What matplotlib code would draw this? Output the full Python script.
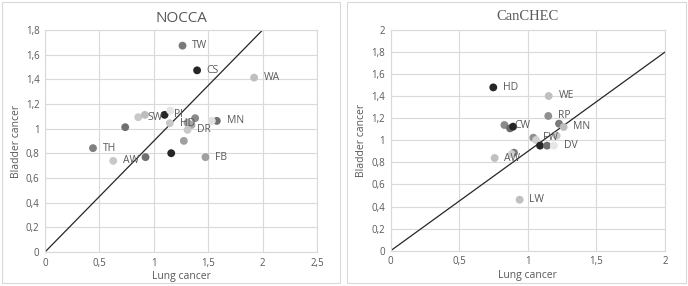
import matplotlib
matplotlib.use("Agg")
import matplotlib.pyplot as plt
from matplotlib.patches import Rectangle

plt.rcParams['font.family'] = ['Open Sans', 'DejaVu Sans']

# NOCCA panel
nocca_x = [1.264, 1.398, 1.922, 1.579, 1.533, 1.380, 1.099, 1.150, 1.147, 0.857, 0.918,
           0.737, 1.310, 1.320, 1.346, 1.310, 1.276, 1.160, 1.475, 0.924, 0.627, 0.441]
nocca_y = [1.673, 1.473, 1.414, 1.063, 1.063, 1.085, 1.112, 1.147, 1.044, 1.093, 1.112,
           1.012, 1.047, 1.040, 1.030, 0.990, 0.901, 0.801, 0.769, 0.769, 0.739, 0.842]
nocca_c = ['#7a7a7a', '#262626', '#bfbfbf', '#707070', '#e0e0e0', '#8a8a8a', '#262626', '#e6e6e6',
           '#c8c8c8', '#c8c8c8', '#bdbdbd', '#707070', '#9a9a9a', '#b0b0b0', '#a6a6a6', '#c8c8c8',
           '#a0a0a0', '#262626', '#a0a0a0', '#707070', '#c8c8c8', '#808080']
nocca_lab = ['TW', 'CS', 'WA', 'MN', '', '', 'PI', '', 'HD', 'SW', '',
             '', '', '', '', 'DR', '', '', 'FB', '', 'AW', 'TH']

# CanCHEC panel
can_x = [0.748, 1.152, 1.149, 1.227, 1.261, 0.829, 0.870, 0.892, 1.040, 1.060, 1.210,
         1.089, 1.140, 1.190, 0.758, 0.899, 0.882, 0.940]
can_y = [1.480, 1.402, 1.221, 1.151, 1.121, 1.139, 1.109, 1.124, 1.024, 1.003, 1.042,
         0.952, 0.952, 0.952, 0.840, 0.888, 0.876, 0.462]
can_c = ['#262626', '#c0c0c0', '#909090', '#7a7a7a', '#bdbdbd', '#8a8a8a', '#6a6a6a', '#262626',
         '#909090', '#d0d0d0', '#c8c8c8', '#262626', '#707070', '#e6e6e6', '#c0c0c0', '#7a7a7a',
         '#d0d0d0', '#c0c0c0']
can_lab = ['HD', 'WE', 'RP', '', 'MN', 'CW', '', '', 'FW', '', '',
           '', '', 'DV', 'AW', '', '', 'LW']

fig = plt.figure(figsize=(6.88, 2.86), dpi=100)

# outer boxes round each chart
for x0, w in [(2, 338), (347, 339)]:
    fig.patches.append(Rectangle((x0 / 688, 3 / 286), w / 688, 281 / 286,
                                 transform=fig.transFigure, fill=False,
                                 edgecolor='#d9d9d9', linewidth=0.8))


def style(ax, xmax, ymax, xstep, ystep):
    ax.set_xlim(0, xmax)
    ax.set_ylim(0, ymax)
    xt = [i * xstep for i in range(int(round(xmax / xstep)) + 1)]
    yt = [i * ystep for i in range(int(round(ymax / ystep)) + 1)]
    ax.set_xticks(xt)
    ax.set_yticks(yt)
    ax.set_xticklabels([('%g' % v).replace('.', ',') for v in xt])
    ax.set_yticklabels([('%g' % v).replace('.', ',') for v in yt])
    ax.grid(True, color='#d9d9d9', linewidth=0.8)
    ax.set_axisbelow(True)
    for s in ax.spines.values():
        s.set_color('#d9d9d9')
        s.set_linewidth(0.8)
    ax.tick_params(length=0, labelsize=7, labelcolor='#595959', pad=4)
    ax.set_xlabel('Lung cancer', fontsize=7.5, color='#595959', labelpad=2)
    ax.set_ylabel('Bladder cancer', fontsize=7.5, color='#595959', labelpad=3)


def points(ax, xs, ys, cs, labs):
    ax.scatter(xs, ys, s=32, c=cs, zorder=3, linewidths=0)
    for x, y, t in zip(xs, ys, labs):
        if t:
            ax.annotate(t, (x, y), xytext=(7, 0), textcoords='offset points',
                        fontsize=7.5, color='#595959', va='center', zorder=4)


ax1 = fig.add_axes([45 / 688, 1 - 252 / 286, 272 / 688, 222 / 286])
style(ax1, 2.5, 1.8, 0.5, 0.2)
ax1.plot([0, 2], [0, 1.8], color='#262626', linewidth=0.9, zorder=2)
points(ax1, nocca_x, nocca_y, nocca_c, nocca_lab)
ax1.set_title('NOCCA', fontsize=11, color='#595959', pad=6)

ax2 = fig.add_axes([390.7 / 688, 1 - 250.7 / 286, 274.3 / 688, 220.7 / 286])
style(ax2, 2, 2, 0.5, 0.2)
ax2.plot([0, 2], [0, 1.8], color='#262626', linewidth=0.9, zorder=2)
points(ax2, can_x, can_y, can_c, can_lab)
ax2.set_title('CanCHEC', fontsize=10.5, color='#595959', pad=7, family='Liberation Serif')

fig.savefig('out.png', dpi=100)
